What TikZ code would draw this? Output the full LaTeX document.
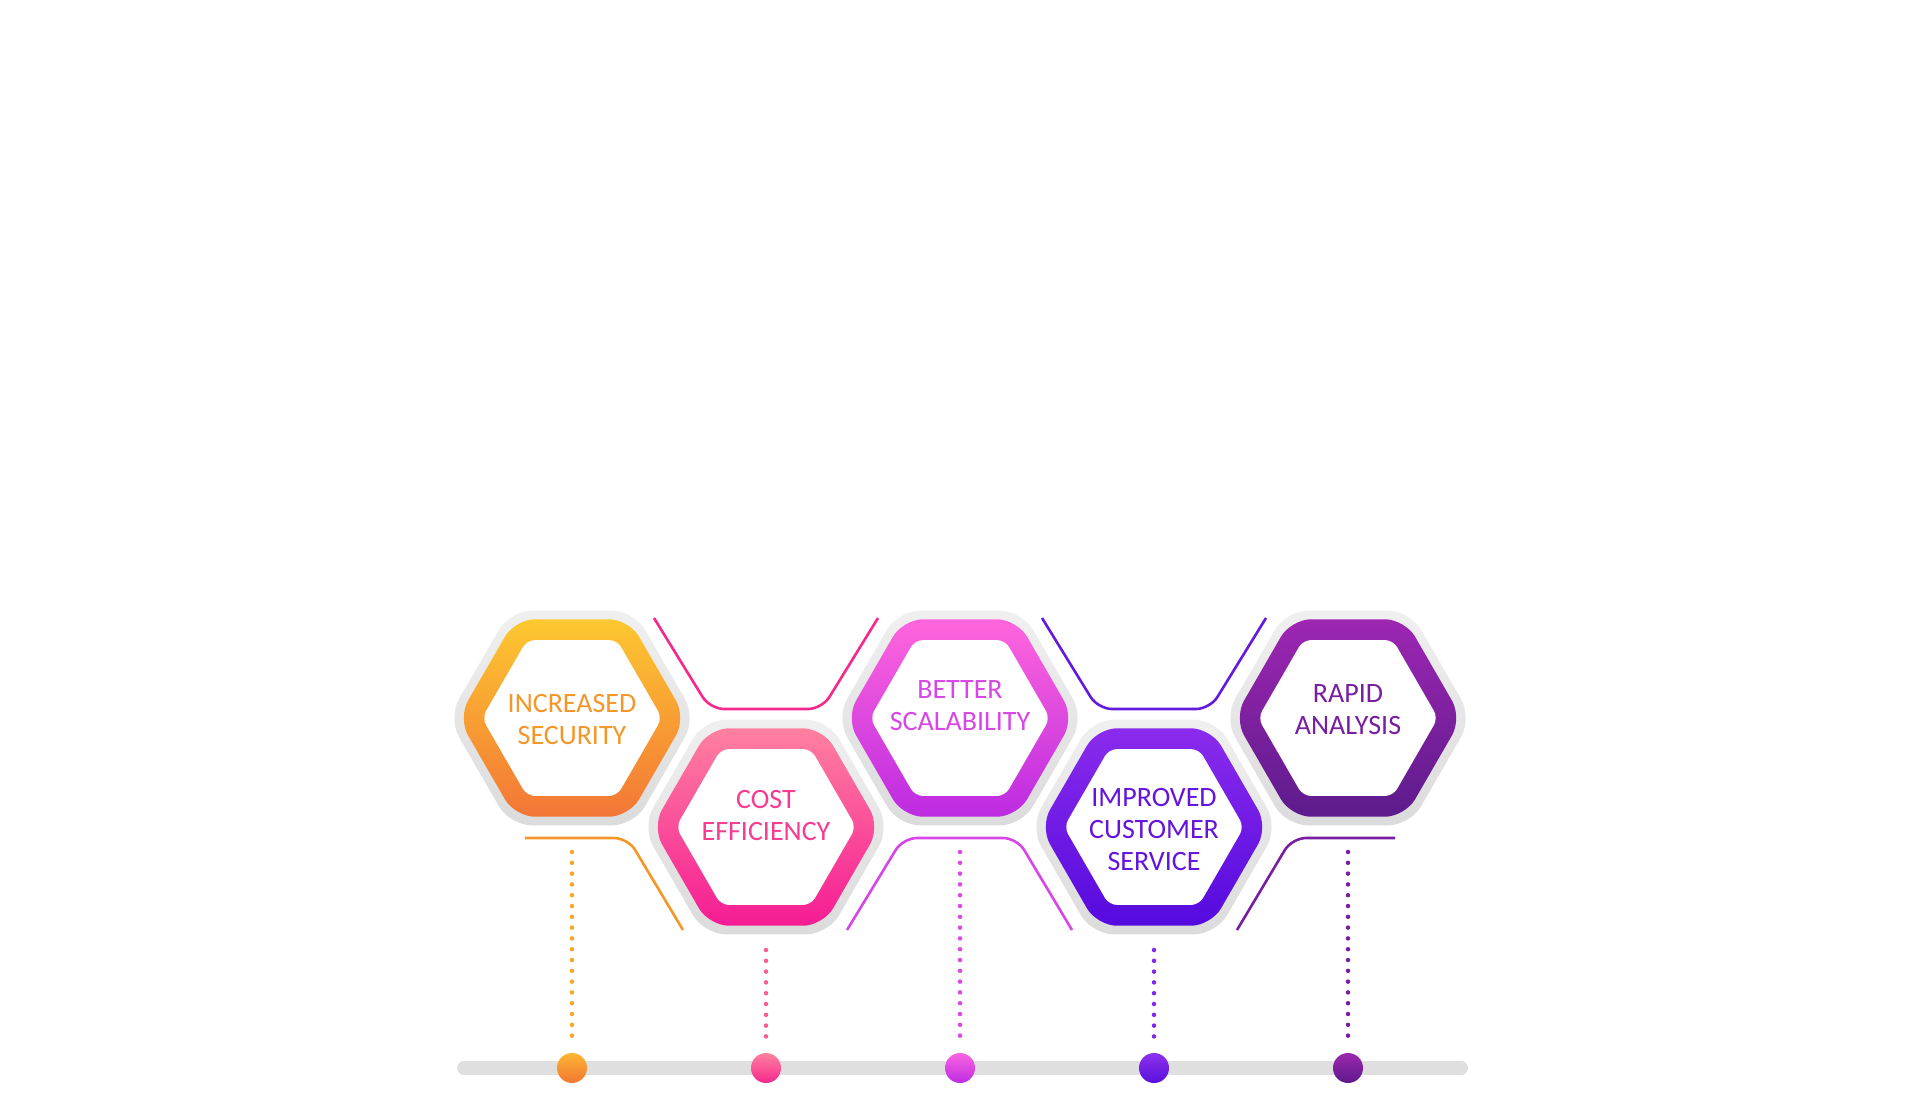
\documentclass[tikz,border=0pt]{standalone}
\usepackage{fontspec}
\setmainfont{Carlito}
\begin{document}
\begin{tikzpicture}[x=1pt,y=-1pt]
\useasboundingbox (0,0) rectangle (1920,1100);
\tikzset{lbl/.style={align=center,font=\fontsize{28}{32}\selectfont},
 conn/.style={line width=2.6pt,rounded corners=14pt},
 dots/.style={line width=4.5pt,line cap=round,dash pattern=on 0pt off 10.8pt},
 ball/.style={circle,minimum size=30pt,inner sep=0pt}}
\newcommand{\hexpath}[3]{(#1+#3,#2) -- (#1+#3/2,#2+0.866*#3) -- (#1-#3/2,#2+0.866*#3) -- (#1-#3,#2) -- (#1-#3/2,#2-0.866*#3) -- (#1+#3/2,#2-0.866*#3) -- cycle}
\newcommand{\myhex}[5]{%
 \shade[rounded corners=22pt,top color=gray!12,bottom color=gray!28] \hexpath{#1}{#2}{124};
 \shade[rounded corners=20pt,top color=#3,bottom color=#4] \hexpath{#1}{#2}{114};
 \fill[white,rounded corners=8pt] \hexpath{#1}{#2}{90};
 \node[lbl,text=#5] at (#1,#2) {\phantom{X}};}
% gray bar
\draw[line width=14pt,line cap=round,gray!25] (464,1068) -- (1461,1068);
% dotted lines
\draw[dots,color={rgb,255:red,247;green,166;blue,40}] (572,852) -- (572,1040);
\draw[dots,color={rgb,255:red,250;green,90;blue,150}] (766,950) -- (766,1040);
\draw[dots,color={rgb,255:red,222;green,70;blue,230}] (960,852) -- (960,1040);
\draw[dots,color={rgb,255:red,130;green,40;blue,235}] (1154,950) -- (1154,1040);
\draw[dots,color={rgb,255:red,120;green,30;blue,160}] (1348,852) -- (1348,1040);
% balls
\node[ball,shading=axis,top color={rgb,255:red,252;green,180;blue,50},bottom color={rgb,255:red,242;green,120;blue,50}] (b1) at (572,1068) {};
\node[ball,top color={rgb,255:red,255;green,130;blue,160},bottom color={rgb,255:red,245;green,40;blue,140}] (b2) at (766,1068) {};
\node[ball,top color={rgb,255:red,250;green,100;blue,225},bottom color={rgb,255:red,190;green,45;blue,225}] (b3) at (960,1068) {};
\node[ball,top color={rgb,255:red,140;green,50;blue,235},bottom color={rgb,255:red,90;green,15;blue,220}] (b4) at (1154,1068) {};
\node[ball,top color={rgb,255:red,155;green,40;blue,175},bottom color={rgb,255:red,95;green,25;blue,140}] (b5) at (1348,1068) {};
% connectors
\draw[conn,color={rgb,255:red,245;green,150;blue,40}] (525,838) -- (628,838) -- (683,930);
\draw[conn,color={rgb,255:red,245;green,40;blue,140}] (654,618) -- (710,709) -- (822,709) -- (878,618);
\draw[conn,color={rgb,255:red,215;green,70;blue,230}] (847,930) -- (903,838) -- (1017,838) -- (1072,930);
\draw[conn,color={rgb,255:red,100;green,25;blue,220}] (1042,618) -- (1098,709) -- (1210,709) -- (1266,618);
\draw[conn,color={rgb,255:red,120;green,30;blue,160}] (1237,930) -- (1292,838) -- (1395,838);
% hexagons
\myhex{572}{718}{{rgb,255:red,253;green,200;blue,48}}{{rgb,255:red,243;green,118;blue,54}}{}
\myhex{766}{827}{{rgb,255:red,255;green,128;blue,160}}{{rgb,255:red,246;green,28;blue,148}}{}
\myhex{960}{718}{{rgb,255:red,255;green,102;blue,221}}{{rgb,255:red,188;green,43;blue,224}}{}
\myhex{1154}{827}{{rgb,255:red,138;green,43;blue,236}}{{rgb,255:red,85;green,10;blue,222}}{}
\myhex{1348}{718}{{rgb,255:red,158;green,38;blue,178}}{{rgb,255:red,92;green,27;blue,140}}{}
\node[lbl,text={rgb,255:red,245;green,150;blue,40}] (t1) at (572,720) {INCREASED\\SECURITY};
\node[lbl,text={rgb,255:red,245;green,60;blue,145}] (t2) at (766,816) {COST\\EFFICIENCY};
\node[lbl,text={rgb,255:red,215;green,70;blue,230}] (t3) at (960,706) {BETTER\\SCALABILITY};
\node[lbl,text={rgb,255:red,100;green,20;blue,220}] (t4) at (1154,830) {IMPROVED\\CUSTOMER\\SERVICE};
\node[lbl,text={rgb,255:red,120;green,30;blue,160}] (t5) at (1348,710) {RAPID\\ANALYSIS};
\end{tikzpicture}
\end{document}
